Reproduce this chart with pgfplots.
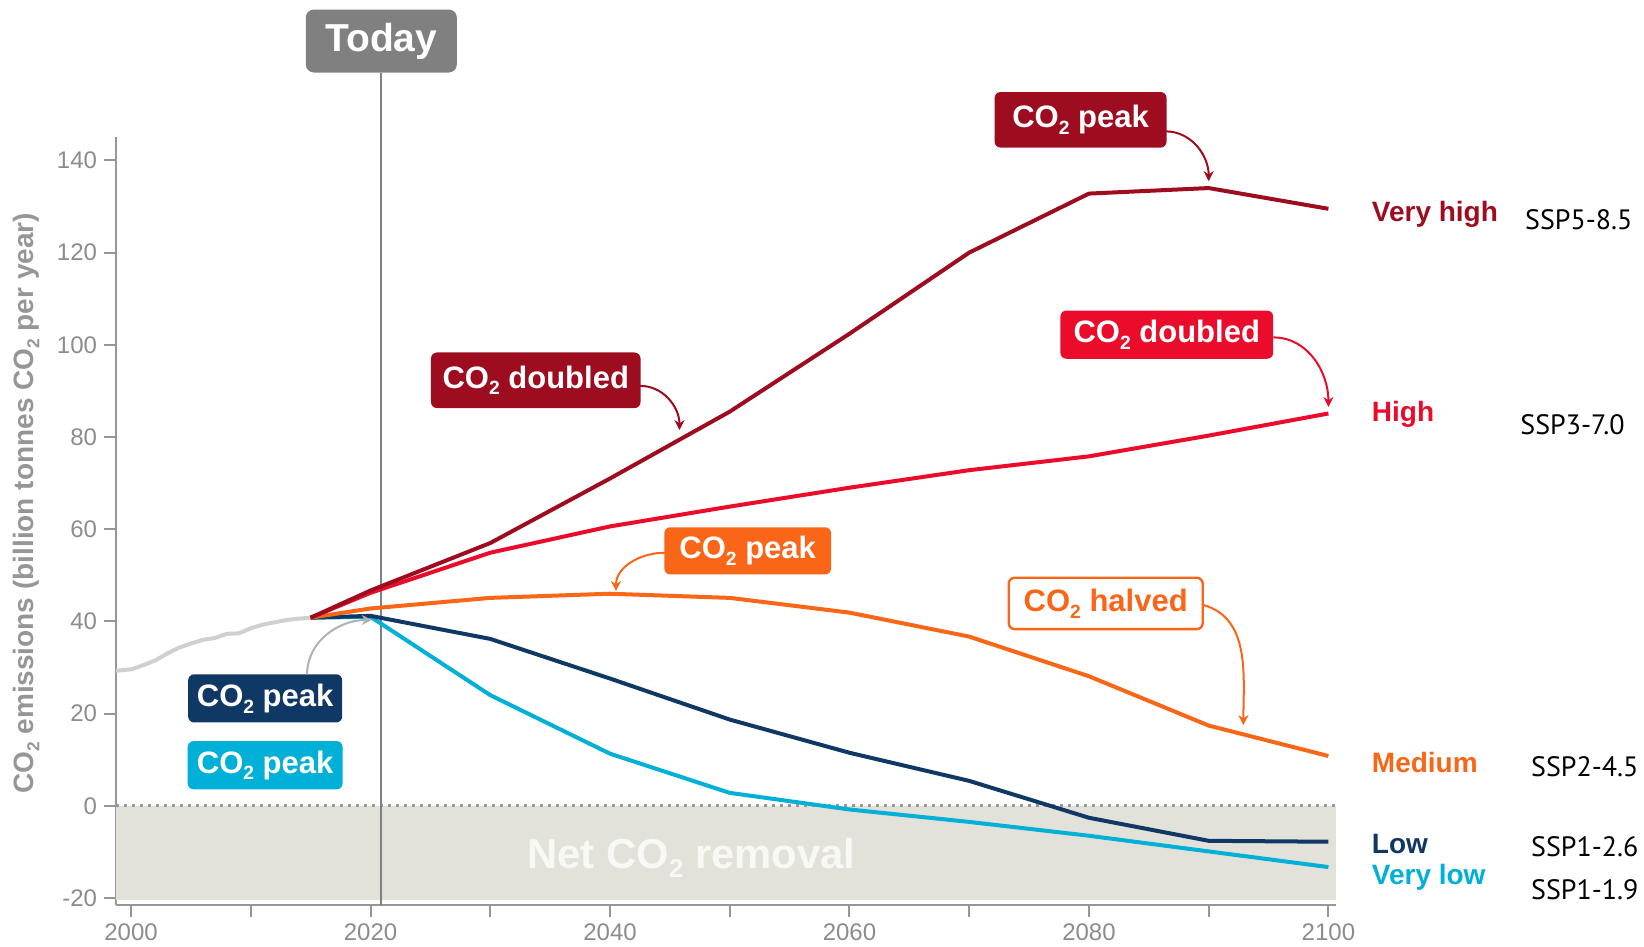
\documentclass[border=0pt]{standalone}
\usepackage{fontspec}
\setmainfont{Liberation Sans}
\newfontfamily\sspfont{PT Sans}
\usepackage{graphicx}
\usepackage{pgfplots}
\pgfplotsset{compat=1.18}
\usetikzlibrary{arrows.meta}
\newcommand\two{\raisebox{-0.42ex}{\scalebox{0.62}{2}}}
\definecolor{vhigh}{RGB}{158,12,32}
\definecolor{high}{RGB}{234,12,42}
\definecolor{medium}{RGB}{250,102,24}
\definecolor{low}{RGB}{16,56,100}
\definecolor{vlow}{RGB}{0,176,214}
\definecolor{hist}{RGB}{208,208,208}
\definecolor{axgray}{RGB}{150,150,150}
\definecolor{ticklab}{RGB}{140,140,140}
\definecolor{todaygray}{RGB}{128,128,128}
\definecolor{shade}{RGB}{227,226,218}
\definecolor{remtext}{RGB}{248,248,244}
\tikzset{ann/.style={rounded corners=3pt, inner sep=0pt, text=white, font=\bfseries\fontsize{15.5}{16}\selectfont}}
\begin{document}
\begin{tikzpicture}
\path[use as bounding box] (0,0) rectangle (822pt,473.5pt);
\begin{axis}[
  at={(58.05pt,21.05pt)}, anchor=south west,
  scale only axis, width=609.75pt, height=383.77pt,
  xmin=1998.75, xmax=2100.6, ymin=-21.5, ymax=145,
  axis lines=left, axis line style={-, draw=axgray, line width=1pt},
  clip=false,
  xtick={2000,2020,...,2100}, minor xtick={2010,2030,...,2090},
  ytick={-20,0,...,140},
  tick align=outside, major tick length=6pt, minor tick length=6pt,
  tick style={axgray, line width=1pt},
  tick label style={font=\fontsize{12}{12}\selectfont, text=ticklab},
  /pgf/number format/assume math mode=true,
  /pgf/number format/set thousands separator={},
]
% shaded removal zone
\addplot[fill=shade, draw=none] coordinates {(1998.75,0) (2100.6,0) (2100.6,-20.4) (1998.75,-20.4)};
\addplot[color=axgray, line width=1.3pt, dash pattern=on 1.3pt off 2.7pt] coordinates {(1998.75,0) (2100.6,0)};
\node[anchor=base, text=remtext, font=\bfseries\fontsize{20.9}{21}\selectfont] at (axis cs:2046.8,-13.5) {Net CO\two{} removal};
% today line
\addplot[color=todaygray, line width=1pt] coordinates {(2020.9,-21.5) (2020.9,159)};
% history
\addplot[color=hist, line width=2pt, line join=round] coordinates {
(1998.75,29.3) (2000,29.6) (2000.7,30.2) (2002,31.5) (2003,33.0) (2004,34.3) (2005,35.2) (2006,36.0) (2007,36.4) (2008,37.3) (2009,37.4) (2010,38.5) (2011,39.3) (2012,39.8) (2013,40.3) (2014,40.6) (2015,40.8)};
% scenarios
\addplot[color=vlow, line width=2pt, line join=round] coordinates {
(2015,40.8) (2020,41.0) (2030,24.0) (2040,11.3) (2050,2.8) (2060,-0.8) (2070,-3.5) (2080,-6.5) (2090,-9.9) (2100,-13.3)};
\addplot[color=low, line width=2pt, line join=round] coordinates {
(2015,40.8) (2020,41.2) (2030,36.2) (2040,27.6) (2050,18.7) (2060,11.5) (2070,5.4) (2080,-2.6) (2090,-7.6) (2100,-7.8)};
\addplot[color=medium, line width=2pt, line join=round] coordinates {
(2015,40.8) (2020,42.8) (2030,45.1) (2040,46.0) (2050,45.1) (2060,41.9) (2070,36.7) (2080,28.1) (2090,17.4) (2100,10.8)};
\addplot[color=high, line width=2pt, line join=round] coordinates {
(2015,40.8) (2020,46.2) (2030,54.9) (2040,60.6) (2050,64.9) (2060,69.0) (2070,72.8) (2080,75.8) (2090,80.3) (2100,85.1)};
\addplot[color=vhigh, line width=2pt, line join=round] coordinates {
(2015,40.8) (2020,46.7) (2030,57.0) (2040,71.0) (2050,85.5) (2060,102.4) (2070,120.0) (2080,132.8) (2090,134.0) (2100,129.5)};
% today box
\node[fill=todaygray, rounded corners=4pt, text=white, font=\bfseries\fontsize{19.5}{20}\selectfont, minimum width=75.5pt, minimum height=31.5pt, inner sep=0pt] at (axis cs:2020.9,165.9) {Today};
% annotation boxes
\node[ann, fill=vhigh, minimum width=86pt, minimum height=27.8pt] at (axis cs:2079.3,148.8) {CO\two{} peak};
\node[ann, fill=vhigh, minimum width=104.8pt, minimum height=27.8pt] at (axis cs:2033.8,92.3) {CO\two{} doubled};
\node[ann, fill=high, minimum width=106.4pt, minimum height=24.1pt] at (axis cs:2086.5,102.2) {CO\two{} doubled};
\node[ann, fill=medium, minimum width=83.4pt, minimum height=23.6pt] at (axis cs:2051.5,55.3) {CO\two{} peak};
\node[ann, fill=white, draw=medium, line width=1.2pt, text=medium, minimum width=97pt, minimum height=25.7pt] at (axis cs:2081.4,43.9) {CO\two{} halved};
\node[ann, fill=low, minimum width=77pt, minimum height=24.1pt] at (axis cs:2011.2,23.3) {CO\two{} peak};
\node[ann, fill=vlow, minimum width=77.5pt, minimum height=24.1pt] at (axis cs:2011.2,8.8) {CO\two{} peak};
% arrows
\draw[vhigh, line width=1pt, -{Stealth[length=5pt,width=5pt]}] (axis cs:2086.4,146.3) to[out=0,in=90] (axis cs:2090,135.5);
\draw[vhigh, line width=1pt, -{Stealth[length=5pt,width=5pt]}] (axis cs:2042.5,91.1) to[out=0,in=90] (axis cs:2045.8,81.5);
\draw[high, line width=1pt, -{Stealth[length=5pt,width=5pt]}] (axis cs:2095.4,101.6) to[out=0,in=90] (axis cs:2100,86.5);
\draw[medium, line width=1pt, -{Stealth[length=5pt,width=5pt]}] (axis cs:2044.6,54.9) to[out=180,in=90] (axis cs:2040.5,46.6);
\draw[medium, line width=1pt, -{Stealth[length=5pt,width=5pt]}] (axis cs:2089.5,43.6) to[out=-15,in=90] (axis cs:2092.9,17.5);
\draw[hist!85!black, line width=1pt, -{Stealth[length=5pt,width=5pt]}] (axis cs:2014.7,28.5) to[out=90,in=180] (axis cs:2020.1,40.3);
% y label
\node[rotate=90, text=axgray, font=\bfseries\fontsize{14}{14}\selectfont] at ([xshift=-44.95pt]axis cs:1998.75,65.6) {CO\two{} emissions (billion tonnes CO\two{} per year)};
% scenario labels
\begin{scope}[font=\bfseries\fontsize{14}{14}\selectfont]
\node[anchor=base west, inner sep=0pt, text=vhigh] at (axis cs:2103.6,126.7) {Very high};
\node[anchor=base west, inner sep=0pt, text=high] at (axis cs:2103.6,83.3) {High};
\node[anchor=base west, inner sep=0pt, text=medium] at (axis cs:2103.6,7.2) {Medium};
\node[anchor=base west, inner sep=0pt, text=low] at (axis cs:2103.6,-10.3) {Low};
\node[anchor=base west, inner sep=0pt, text=vlow] at (axis cs:2103.6,-17.0) {Very low};
\end{scope}
\begin{scope}[font=\sspfont\fontsize{14}{14}\selectfont]
\node[anchor=base west, inner sep=0pt] at (axis cs:2116.4,125.1) {SSP5-8.5};
\node[anchor=base west, inner sep=0pt] at (axis cs:2116.0,80.6) {SSP3-7.0};
\node[anchor=base west, inner sep=0pt] at (axis cs:2116.9,6.3) {SSP2-4.5};
\node[anchor=base west, inner sep=0pt] at (axis cs:2116.9,-11.0) {SSP1-2.6};
\node[anchor=base west, inner sep=0pt] at (axis cs:2116.9,-20.4) {SSP1-1.9};
\end{scope}
\end{axis}
\end{tikzpicture}
\end{document}
